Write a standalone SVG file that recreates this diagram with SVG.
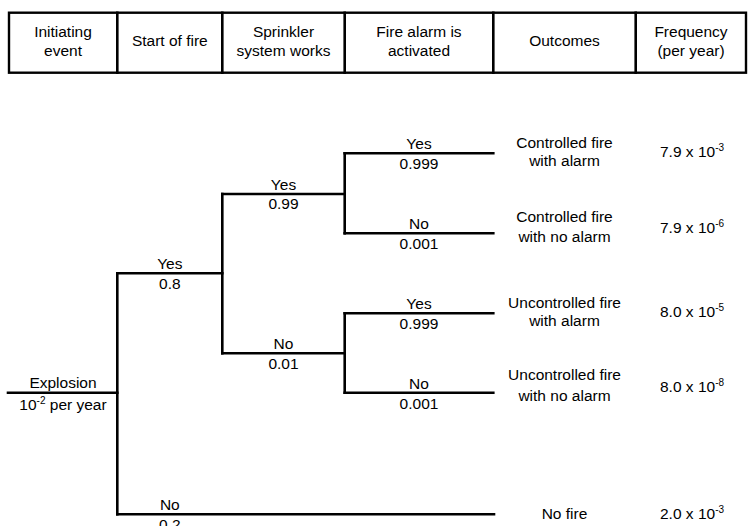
<svg xmlns="http://www.w3.org/2000/svg" width="749" height="526" viewBox="0 0 749 526">
<style>
text{font-family:"Liberation Sans",Arial,sans-serif;font-size:15.5px;fill:#000}
.c{text-anchor:middle}
.sup{font-size:10px}
.ln{stroke:#000;stroke-width:2.6;fill:none;stroke-linecap:square}
.hb{stroke:#000;stroke-width:2.4;fill:#fff}
</style>
<rect width="749" height="526" fill="#fff"/>
<g id="header">
<rect class="hb" x="9" y="12.7" width="737" height="60"/>
<path class="ln" d="M117.3 12.7V72.7M222.3 12.7V72.7M344.7 12.7V72.7M493.3 12.7V72.7M635.7 12.7V72.7" stroke-linecap="butt"/>
<text class="c" x="63" y="36.5">Initiating</text>
<text class="c" x="63" y="56">event</text>
<text class="c" x="169.8" y="46">Start of fire</text>
<text class="c" x="283.5" y="36.5">Sprinkler</text>
<text class="c" x="283.5" y="56">system works</text>
<text class="c" x="419" y="36.5">Fire alarm is</text>
<text class="c" x="419" y="56">activated</text>
<text class="c" x="564.5" y="46">Outcomes</text>
<text class="c" x="691" y="36.5">Frequency</text>
<text class="c" x="691" y="56">(per year)</text>
</g>
<g id="connectors">
<path class="ln" d="M8 392.7H117.3"/>
<path class="ln" d="M117.3 273.3V514.3"/>
<path class="ln" d="M117.3 273.3H222.3"/>
<path class="ln" d="M117.3 514.3H494"/>
<path class="ln" d="M222.3 194V353.3"/>
<path class="ln" d="M222.3 194H344.7"/>
<path class="ln" d="M222.3 353.3H344.7"/>
<path class="ln" d="M344.7 153.3V233.3"/>
<path class="ln" d="M344.7 153.3H493.3"/>
<path class="ln" d="M344.7 233.3H493.3"/>
<path class="ln" d="M344.7 313.3V392.7"/>
<path class="ln" d="M344.7 313.3H493.3"/>
<path class="ln" d="M344.7 392.7H493.3"/>
</g>
<g id="n-explosion">
<text class="c" x="63" y="388">Explosion</text>
<text class="c" x="63" y="410">10<tspan class="sup" dy="-6">-2</tspan><tspan dy="6"> per year</tspan></text>
</g>
<g id="n-fire-yes">
<text class="c" x="169.8" y="269">Yes</text>
<text class="c" x="169.8" y="289">0.8</text>
</g>
<g id="n-fire-no">
<text class="c" x="169.8" y="510">No</text>
<text class="c" x="169.8" y="530">0.2</text>
</g>
<g id="n-sprinkler-yes">
<text class="c" x="283.5" y="190">Yes</text>
<text class="c" x="283.5" y="209">0.99</text>
</g>
<g id="n-sprinkler-no">
<text class="c" x="283.5" y="349">No</text>
<text class="c" x="283.5" y="369">0.01</text>
</g>
<g id="n-alarm-1">
<text class="c" x="419" y="149">Yes</text>
<text class="c" x="419" y="169">0.999</text>
</g>
<g id="n-alarm-2">
<text class="c" x="419" y="229">No</text>
<text class="c" x="419" y="249">0.001</text>
</g>
<g id="n-alarm-3">
<text class="c" x="419" y="309">Yes</text>
<text class="c" x="419" y="329">0.999</text>
</g>
<g id="n-alarm-4">
<text class="c" x="419" y="388.5">No</text>
<text class="c" x="419" y="408.5">0.001</text>
</g>
<g id="o-1">
<text class="c" x="564.5" y="148">Controlled fire</text>
<text class="c" x="564.5" y="166">with alarm</text>
<text x="660" y="157">7.9 x 10<tspan class="sup" dy="-6">-3</tspan></text>
</g>
<g id="o-2">
<text class="c" x="564.5" y="222">Controlled fire</text>
<text class="c" x="564.5" y="242">with no alarm</text>
<text x="660" y="233">7.9 x 10<tspan class="sup" dy="-6">-6</tspan></text>
</g>
<g id="o-3">
<text class="c" x="564.5" y="308">Uncontrolled fire</text>
<text class="c" x="564.5" y="326">with alarm</text>
<text x="660" y="317">8.0 x 10<tspan class="sup" dy="-6">-5</tspan></text>
</g>
<g id="o-4">
<text class="c" x="564.5" y="380">Uncontrolled fire</text>
<text class="c" x="564.5" y="401">with no alarm</text>
<text x="660" y="392">8.0 x 10<tspan class="sup" dy="-6">-8</tspan></text>
</g>
<g id="o-5">
<text class="c" x="564.5" y="519">No fire</text>
<text x="660" y="519">2.0 x 10<tspan class="sup" dy="-6">-3</tspan></text>
</g>
</svg>
